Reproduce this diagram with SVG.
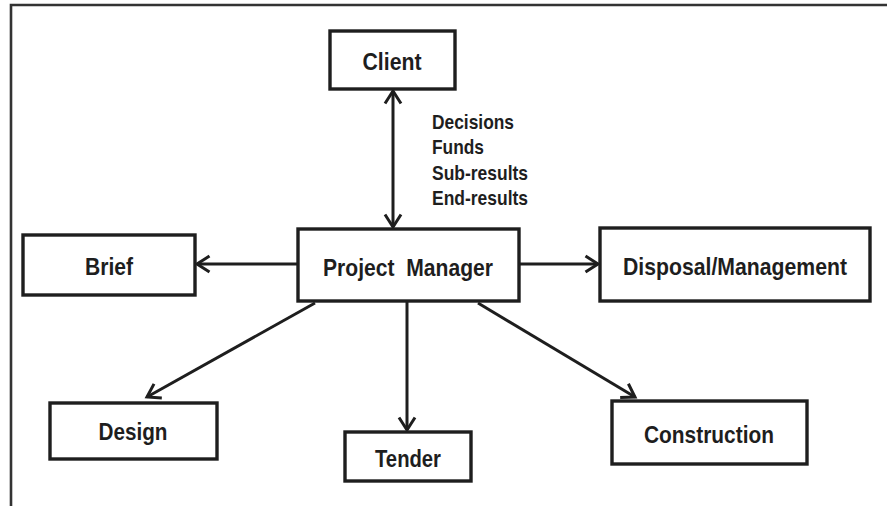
<svg xmlns="http://www.w3.org/2000/svg" width="887" height="506" viewBox="0 0 887 506">
  <style>
    .box { fill: #fff; stroke: #1e1e1e; stroke-width: 3.4; }
    .t { font-family: "Liberation Sans", Arial, sans-serif; font-weight: bold; font-size: 24px; fill: #1e1e1e; text-anchor: middle; }
    .lbl { font-family: "Liberation Sans", Arial, sans-serif; font-weight: bold; font-size: 20.5px; fill: #1e1e1e; }
    .conn { stroke: #1e1e1e; stroke-width: 3; fill: none; }
    .frame { stroke: #333; stroke-width: 2.6; fill: none; }
  </style>
  <defs>
    <marker id="arr" markerUnits="userSpaceOnUse" viewBox="-15 -10 18 20" refX="0" refY="0" markerWidth="18" markerHeight="20" orient="auto-start-reverse">
      <path d="M-12.5,-8 L0,0 L-12.5,8" fill="none" stroke="#1e1e1e" stroke-width="3" stroke-linejoin="miter"/>
    </marker>
  </defs>
  <rect width="887" height="506" fill="#fff"/>
  <path class="frame" d="M11,506 V5 H887"/>

  <g id="connectors">
    <line class="conn" x1="393" y1="91" x2="393" y2="227" marker-start="url(#arr)" marker-end="url(#arr)"/>
    <line class="conn" x1="298" y1="264" x2="197" y2="264" marker-end="url(#arr)"/>
    <line class="conn" x1="519" y1="264" x2="598" y2="264" marker-end="url(#arr)"/>
    <line class="conn" x1="407" y1="301" x2="407" y2="430" marker-end="url(#arr)"/>
    <line class="conn" x1="315" y1="303" x2="147" y2="397" marker-end="url(#arr)"/>
    <line class="conn" x1="478" y1="303" x2="635" y2="397" marker-end="url(#arr)"/>
    <g id="flow-label">
      <text class="lbl" x="432" y="128.5" textLength="82" lengthAdjust="spacingAndGlyphs">Decisions</text>
      <text class="lbl" x="432" y="154" textLength="52" lengthAdjust="spacingAndGlyphs">Funds</text>
      <text class="lbl" x="432" y="179.5" textLength="96" lengthAdjust="spacingAndGlyphs">Sub-results</text>
      <text class="lbl" x="432" y="205" textLength="96" lengthAdjust="spacingAndGlyphs">End-results</text>
    </g>
  </g>

  <g id="client">
    <rect class="box" x="330" y="31" width="125" height="58"/>
    <text class="t" x="392" y="70" textLength="59" lengthAdjust="spacingAndGlyphs">Client</text>
  </g>
  <g id="project-manager">
    <rect class="box" x="298" y="229" width="221" height="72"/>
    <text class="t" x="408" y="275.5" textLength="170" lengthAdjust="spacingAndGlyphs" xml:space="preserve">Project  Manager</text>
  </g>
  <g id="brief">
    <rect class="box" x="23" y="235" width="172" height="60"/>
    <text class="t" x="109" y="275" textLength="48" lengthAdjust="spacingAndGlyphs">Brief</text>
  </g>
  <g id="disposal-management">
    <rect class="box" x="600" y="228" width="270" height="73"/>
    <text class="t" x="735" y="274.5" textLength="224" lengthAdjust="spacingAndGlyphs">Disposal/Management</text>
  </g>
  <g id="design">
    <rect class="box" x="50" y="403" width="167" height="56"/>
    <text class="t" x="133" y="440" textLength="69" lengthAdjust="spacingAndGlyphs">Design</text>
  </g>
  <g id="tender">
    <rect class="box" x="345" y="432" width="126" height="49"/>
    <text class="t" x="408" y="467" textLength="66" lengthAdjust="spacingAndGlyphs">Tender</text>
  </g>
  <g id="construction">
    <rect class="box" x="612" y="401" width="195" height="63"/>
    <text class="t" x="709" y="443" textLength="130" lengthAdjust="spacingAndGlyphs">Construction</text>
  </g>
</svg>
